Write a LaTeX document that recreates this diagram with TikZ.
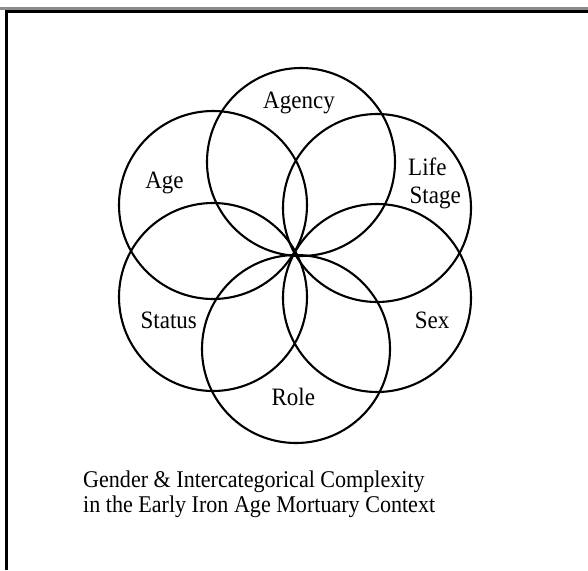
\documentclass[tikz,border=0pt]{standalone}
\usepackage{fontspec}
\setmainfont{Liberation Serif}[FakeStretch=0.92]
\begin{document}
\begin{tikzpicture}[x=1pt,y=-1pt,
  ring/.style={circle,draw=black,line width=2.1pt,minimum size=188pt,inner sep=0pt},
  lab/.style={font=\fontsize{25}{28}\selectfont,inner sep=0pt,anchor=base},
  labw/.style={font=\fontsize{25}{28}\selectfont,inner sep=0pt,anchor=base west},
  captext/.style={font=\fontsize{24}{25}\selectfont,inner sep=0pt,anchor=base west}]
\useasboundingbox (0,0) rectangle (588,570);
\fill[white] (0,0) rectangle (588,570);
% window frame
\fill[black!45] (0,7.2) rectangle (588,9.6);
\fill[black] (5,10) rectangle (588,12.6);
\fill[black] (5,10) rectangle (8,570);
% circles
\node[ring] (agency) at (301,162) {};
\node[ring] (age)    at (213,205) {};
\node[ring] (life)   at (377,208) {};
\node[ring] (status) at (213,297) {};
\node[ring] (sex)    at (377,298) {};
\node[ring] (role)   at (296,349) {};
% labels
\node[lab] (tagency) at (299,108.3) {Agency};
\node[lab] (tage)    at (164.5,188) {Age};
\node[labw] (tlife)  at (408,175) {Life};
\node[labw] (tstage) at (409.5,203.3) {Stage};
\node[lab] (tstatus) at (168.8,328) {Status};
\node[lab] (tsex)    at (432.2,328) {Sex};
\node[lab] (trole)   at (293.3,405) {Role};
% caption
\node[captext] (cap1) at (83,487) {Gender \& Intercategorical Complexity};
\node[captext] (cap2) at (83,512) {in the Early Iron Age Mortuary Context};
\end{tikzpicture}
\end{document}
